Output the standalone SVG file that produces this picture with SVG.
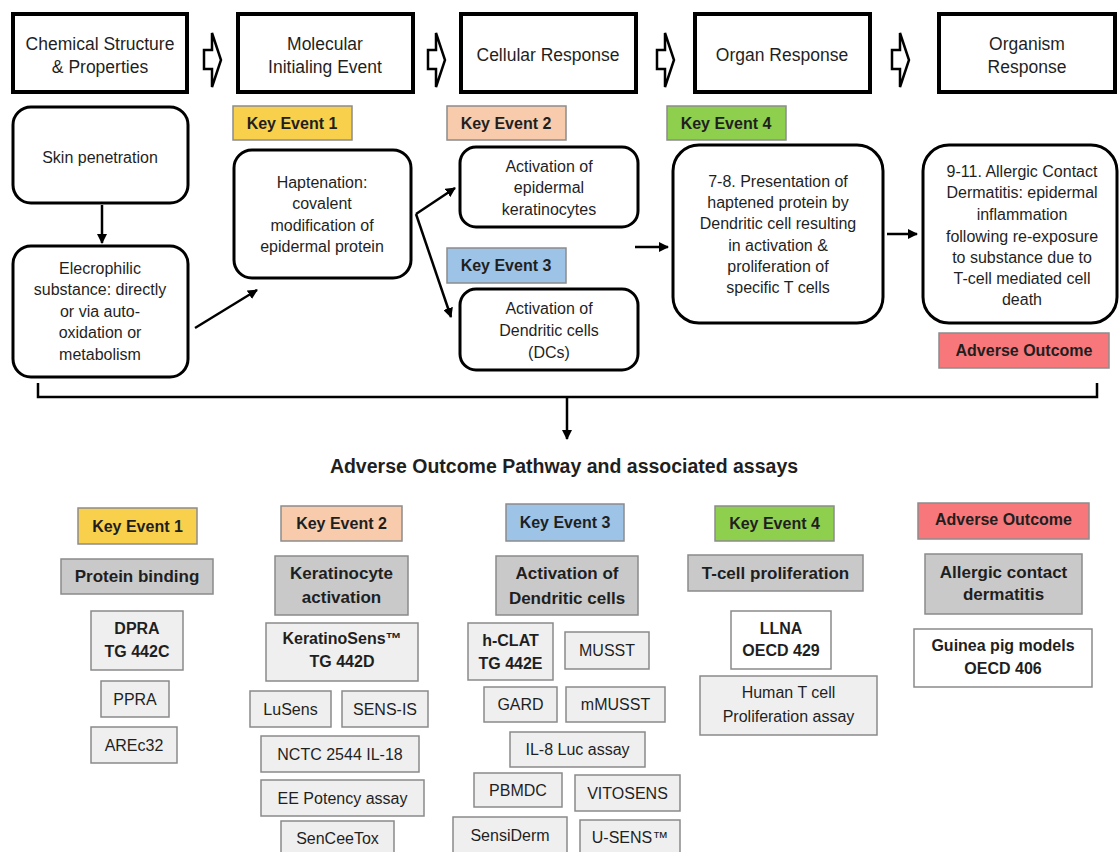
<svg xmlns="http://www.w3.org/2000/svg" width="1120" height="852" viewBox="0 0 1120 852">
<defs>
<marker id="ah" viewBox="0 0 10 10" refX="9" refY="5" markerWidth="4" markerHeight="4" orient="auto" markerUnits="strokeWidth"><path d="M0,0 L10,5 L0,10 z" fill="#000"/></marker>
<style>
text{font-family:"Liberation Sans",Arial,sans-serif;fill:#1f1f1f;text-anchor:middle;dominant-baseline:central}
.hd{fill:#fff;stroke:#000;stroke-width:4}
.hdt{font-size:17.5px}
.rb{fill:#fff;stroke:#000;stroke-width:3}
.bt{font-size:16px}
.ke{font-size:16px;font-weight:bold}
.lab{stroke:#8c8c8c;stroke-width:1.5}
.y{fill:#F9D04C}.o{fill:#F8CBAD}.b{fill:#9DC3E6}.g{fill:#8FCF4E}.r{fill:#F8777A}
.gb{fill:#C9C9C9;stroke:#8a8a8a;stroke-width:1.5}
.gt{font-size:17px;font-weight:bold}
.ab{fill:#EFEFEF;stroke:#8a8a8a;stroke-width:1.5}
.wb{fill:#fff;stroke:#8a8a8a;stroke-width:1.5}
.at{font-size:16px}
.atb{font-size:16px;font-weight:bold}
.blk{fill:#fff;stroke:#000;stroke-width:2.5;stroke-linejoin:miter}
.cn{fill:none;stroke:#000;stroke-width:2.5}
</style>
</defs>
<rect width="1120" height="852" fill="#fff"/>

<!-- Header row -->
<g id="h1"><rect class="hd" x="13" y="14" width="174" height="78"/><text class="hdt" x="100" y="44">Chemical Structure</text><text class="hdt" x="100" y="67">&amp; Properties</text></g>
<g id="h2"><rect class="hd" x="238" y="14" width="175" height="78"/><text class="hdt" x="325" y="44">Molecular</text><text class="hdt" x="325" y="67">Initialing Event</text></g>
<g id="h3"><rect class="hd" x="461" y="14" width="175" height="78"/><text class="hdt" x="548" y="55">Cellular Response</text></g>
<g id="h4"><rect class="hd" x="695" y="14" width="175" height="78"/><text class="hdt" x="782" y="55">Organ Response</text></g>
<g id="h5"><rect class="hd" x="939" y="14" width="176" height="78"/><text class="hdt" x="1027" y="44">Organism</text><text class="hdt" x="1027" y="67">Response</text></g>

<!-- block arrows between header boxes -->
<g id="blockarrows">
<polygon class="blk" points="204,50 212,50 212,33 221,60 212,87 212,69 204,69"/>
<polygon class="blk" points="428,50 436,50 436,33 445,60 436,87 436,69 428,69"/>
<polygon class="blk" points="657,50 665,50 665,33 674,60 665,87 665,69 657,69"/>
<polygon class="blk" points="892,50 900,50 900,33 909,60 900,87 900,69 892,69"/>
</g>

<!-- Key event labels (top) -->
<g id="ke1top"><rect class="lab y" x="233" y="106" width="119" height="34"/><text class="ke" x="292" y="123">Key Event 1</text></g>
<g id="ke2top"><rect class="lab o" x="447" y="106" width="119" height="34"/><text class="ke" x="506" y="123">Key Event 2</text></g>
<g id="ke3top"><rect class="lab b" x="447" y="248" width="119" height="35"/><text class="ke" x="506" y="265.5">Key Event 3</text></g>
<g id="ke4top"><rect class="lab g" x="667" y="106" width="119" height="34"/><text class="ke" x="726" y="123">Key Event 4</text></g>
<g id="aotop"><rect class="lab r" x="939" y="333" width="170" height="35"/><text class="ke" x="1024" y="350.5">Adverse Outcome</text></g>

<!-- Process nodes -->
<g id="skin"><rect class="rb" x="13" y="107" width="175" height="96" rx="18"/><text class="bt" x="100" y="157">Skin penetration</text></g>
<g id="elec"><rect class="rb" x="13" y="246" width="175" height="131" rx="18"/>
<text class="bt" x="100" y="268">Elecrophilic</text><text class="bt" x="100" y="289.5">substance: directly</text><text class="bt" x="100" y="311">or via auto-</text><text class="bt" x="100" y="332.5">oxidation or</text><text class="bt" x="100" y="354">metabolism</text></g>
<g id="hapt"><rect class="rb" x="234" y="150" width="177" height="128" rx="18"/>
<text class="bt" x="322" y="182">Haptenation:</text><text class="bt" x="322" y="203.5">covalent</text><text class="bt" x="322" y="225">modification of</text><text class="bt" x="322" y="246.5">epidermal protein</text></g>
<g id="kera"><rect class="rb" x="460" y="147" width="178" height="80" rx="16"/>
<text class="bt" x="549" y="166">Activation of</text><text class="bt" x="549" y="187.5">epidermal</text><text class="bt" x="549" y="209">keratinocytes</text></g>
<g id="dcs"><rect class="rb" x="460" y="289" width="178" height="81" rx="16"/>
<text class="bt" x="549" y="308">Activation of</text><text class="bt" x="549" y="330">Dendritic cells</text><text class="bt" x="549" y="352">(DCs)</text></g>
<g id="pres"><rect class="rb" x="673" y="145" width="210" height="178" rx="26"/>
<text class="bt" x="778" y="181">7-8. Presentation of</text><text class="bt" x="778" y="202">haptened protein by</text><text class="bt" x="778" y="223.5">Dendritic cell resulting</text><text class="bt" x="778" y="245">in activation &amp;</text><text class="bt" x="778" y="266">proliferation of</text><text class="bt" x="778" y="287">specific T cells</text></g>
<g id="acd"><rect class="rb" x="923" y="145" width="194" height="178" rx="26"/>
<text class="bt" x="1022" y="171">9-11. Allergic Contact</text><text class="bt" x="1022" y="192">Dermatitis: epidermal</text><text class="bt" x="1022" y="214">inflammation</text><text class="bt" x="1022" y="236">following re-exposure</text><text class="bt" x="1022" y="257">to substance due to</text><text class="bt" x="1022" y="278">T-cell mediated cell</text><text class="bt" x="1022" y="299">death</text></g>

<!-- Connectors -->
<g id="connectors">
<line class="cn" x1="102" y1="205" x2="102" y2="243" marker-end="url(#ah)"/>
<line class="cn" x1="195" y1="328" x2="257" y2="290" marker-end="url(#ah)"/>
<line class="cn" x1="416" y1="214" x2="455" y2="188" marker-end="url(#ah)"/>
<line class="cn" x1="416" y1="214" x2="451" y2="317" marker-end="url(#ah)"/>
<line class="cn" x1="635" y1="247" x2="668" y2="247" marker-end="url(#ah)"/>
<line class="cn" x1="887" y1="234" x2="917" y2="234" marker-end="url(#ah)"/>
<polyline class="cn" points="38,383 38,397 1097,397 1097,383" stroke-width="3"/>
<line class="cn" x1="567" y1="397" x2="567" y2="439" marker-end="url(#ah)"/>
</g>

<text x="564" y="466" style="font-size:19.5px;font-weight:bold">Adverse Outcome Pathway and associated assays</text>

<!-- Column 1 -->
<g id="b-ke1"><rect class="lab y" x="78" y="508" width="119" height="36"/><text class="ke" x="137.5" y="526">Key Event 1</text></g>
<g id="b-protein"><rect class="gb" x="61" y="559" width="152" height="35"/><text class="gt" x="137" y="576.5">Protein binding</text></g>
<g id="b-dpra"><rect class="ab" x="91" y="611" width="92" height="59"/><text class="atb" x="137" y="628">DPRA</text><text class="atb" x="137" y="651">TG 442C</text></g>
<g id="b-ppra"><rect class="ab" x="101" y="681" width="68" height="36"/><text class="at" x="135" y="699">PPRA</text></g>
<g id="b-arec"><rect class="ab" x="91" y="727" width="86" height="36"/><text class="at" x="134" y="745">AREc32</text></g>

<!-- Column 2 -->
<g id="b-ke2"><rect class="lab o" x="281" y="506" width="121" height="35"/><text class="ke" x="341.5" y="523.5">Key Event 2</text></g>
<g id="b-kera"><rect class="gb" x="275" y="556" width="133" height="59"/><text class="gt" x="341.5" y="573">Keratinocyte</text><text class="gt" x="341.5" y="597">activation</text></g>
<g id="b-ksens"><rect class="ab" x="266" y="623" width="152" height="58"/><text class="atb" x="342" y="638">KeratinoSens™</text><text class="atb" x="342" y="661">TG 442D</text></g>
<g id="b-lusens"><rect class="ab" x="250" y="691" width="81" height="36"/><text class="at" x="290.5" y="709">LuSens</text></g>
<g id="b-sensis"><rect class="ab" x="342" y="691" width="86" height="36"/><text class="at" x="385" y="709">SENS-IS</text></g>
<g id="b-nctc"><rect class="ab" x="261" y="736" width="158" height="36"/><text class="at" x="340" y="754">NCTC 2544 IL-18</text></g>
<g id="b-ee"><rect class="ab" x="261" y="780" width="163" height="36"/><text class="at" x="342.5" y="798">EE Potency assay</text></g>
<g id="b-sencee"><rect class="ab" x="281" y="821" width="113" height="36"/><text class="at" x="337.5" y="838">SenCeeTox</text></g>

<!-- Column 3 -->
<g id="b-ke3"><rect class="lab b" x="506" y="504" width="118" height="37"/><text class="ke" x="565" y="522.5">Key Event 3</text></g>
<g id="b-dc"><rect class="gb" x="496" y="556" width="142" height="59"/><text class="gt" x="567" y="573">Activation of</text><text class="gt" x="567" y="598">Dendritic cells</text></g>
<g id="b-hclat"><rect class="ab" x="468" y="623" width="85" height="57"/><text class="atb" x="510.5" y="640">h-CLAT</text><text class="atb" x="510.5" y="663">TG 442E</text></g>
<g id="b-musst"><rect class="ab" x="565" y="632" width="84" height="37"/><text class="at" x="607" y="650.5">MUSST</text></g>
<g id="b-gard"><rect class="ab" x="484" y="687" width="73" height="35"/><text class="at" x="520.5" y="704.5">GARD</text></g>
<g id="b-mmusst"><rect class="ab" x="566" y="687" width="99" height="35"/><text class="at" x="615.5" y="704.5">mMUSST</text></g>
<g id="b-il8"><rect class="ab" x="510" y="732" width="135" height="35"/><text class="at" x="577.5" y="749.5">IL-8 Luc assay</text></g>
<g id="b-pbmdc"><rect class="ab" x="474" y="773" width="88" height="34"/><text class="at" x="518" y="790">PBMDC</text></g>
<g id="b-vito"><rect class="ab" x="575" y="775" width="105" height="36"/><text class="at" x="627.5" y="793">VITOSENS</text></g>
<g id="b-sensi"><rect class="ab" x="453" y="817" width="114" height="38"/><text class="at" x="510" y="835">SensiDerm</text></g>
<g id="b-usens"><rect class="ab" x="580" y="820" width="100" height="38"/><text class="at" x="630" y="837">U-SENS™</text></g>

<!-- Column 4 -->
<g id="b-ke4"><rect class="lab g" x="715" y="506" width="119" height="35"/><text class="ke" x="774.5" y="523.5">Key Event 4</text></g>
<g id="b-tcell"><rect class="gb" x="688" y="555" width="175" height="36"/><text class="gt" x="775.5" y="573">T-cell proliferation</text></g>
<g id="b-llna"><rect class="wb" x="731" y="611" width="100" height="58"/><text class="atb" x="781" y="628">LLNA</text><text class="atb" x="781" y="650">OECD 429</text></g>
<g id="b-human"><rect class="ab" x="700" y="676" width="177" height="59"/><text class="at" x="788.5" y="692">Human T cell</text><text class="at" x="788.5" y="716">Proliferation assay</text></g>

<!-- Column 5 -->
<g id="b-ao"><rect class="lab r" x="918" y="503" width="171" height="36"/><text class="ke" x="1003.5" y="519">Adverse Outcome</text></g>
<g id="b-acd"><rect class="gb" x="925" y="554" width="157" height="60"/><text class="gt" x="1003.5" y="572">Allergic contact</text><text class="gt" x="1003.5" y="594">dermatitis</text></g>
<g id="b-guinea"><rect class="wb" x="914" y="629" width="178" height="58"/><text class="atb" x="1003" y="645">Guinea pig models</text><text class="atb" x="1003" y="668">OECD 406</text></g>
</svg>
